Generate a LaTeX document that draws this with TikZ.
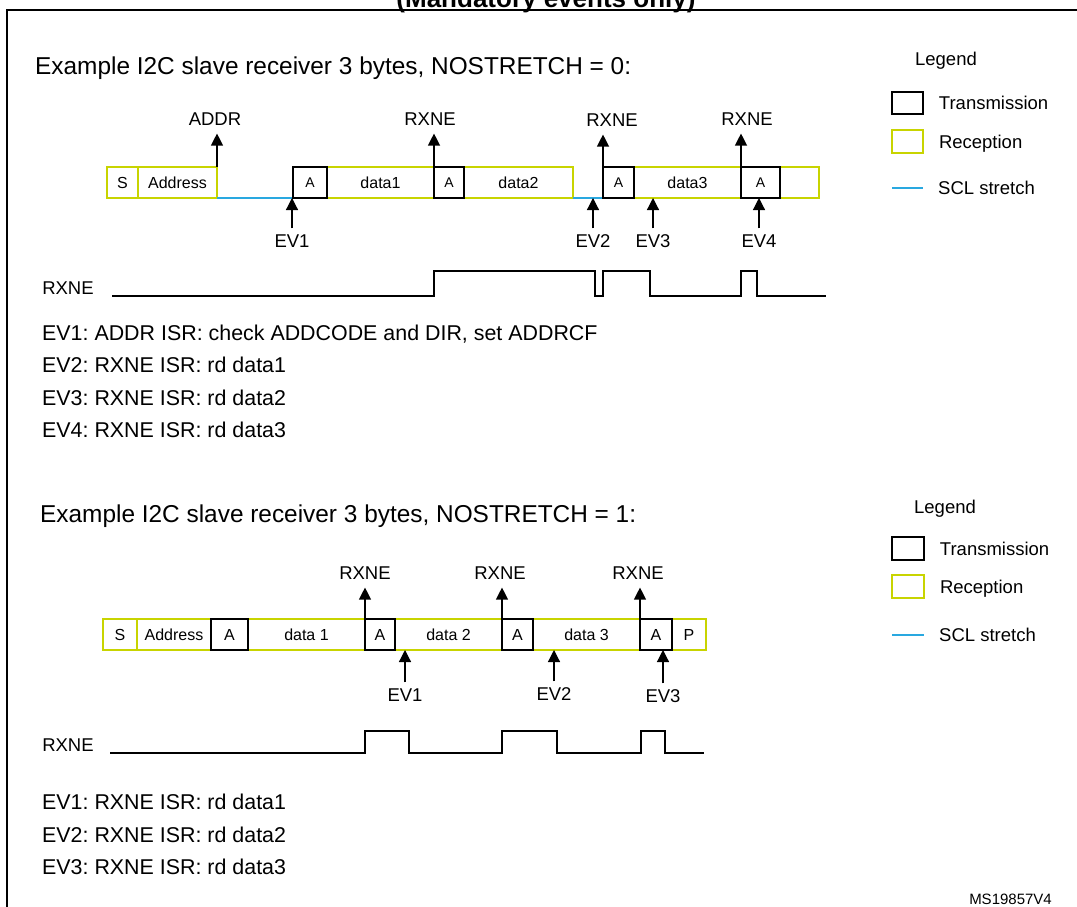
\documentclass[tikz,border=0pt]{standalone}
\usepackage{fontspec}
\setmainfont{Liberation Sans}
\usepackage{tikz}
\usetikzlibrary{positioning,arrows.meta}
\definecolor{stlime}{RGB}{200,212,0}
\definecolor{stblue}{RGB}{41,168,224}
\newcommand\hdfont{\fontsize{24.4}{28}\selectfont}
\newcommand\ttlfont{\bfseries\fontsize{26}{30}\selectfont}
\newcommand\txtfont{\fontsize{21.4}{25}\selectfont}
\newcommand\lblfont{\fontsize{18.5}{22}\selectfont}
\newcommand\boxfont{\fontsize{16}{19}\selectfont}
\newcommand\ackfont{\fontsize{14}{16}\selectfont}
\newcommand\msfont{\fontsize{15}{18}\selectfont}
\frenchspacing

\begin{document}
\begin{tikzpicture}[x=1pt,y=-1pt,
      every node/.style={inner sep=0pt},
      rbox/.style={draw=stlime, line width=1.6pt, minimum height=31pt, outer sep=0pt, font=\boxfont},
      abox/.style={rbox, draw=none, font=\ackfont},
      tline/.style={line width=1.6pt},
      stretch/.style={draw=stblue, line width=1.6pt},
      lbl/.style={font=\lblfont, text depth=0pt},
      ev/.style={line width=1.2pt, -{Triangle[width=12pt,length=12pt]}},
      flag/.style={ev, shorten >=8pt},
      hit/.style={ev, shorten <=6pt},
      wave/.style={line width=1.6pt},
      txt/.style={font=\txtfont, anchor=base west}]
    \useasboundingbox (0,0) rectangle (1077,907);
    \draw[line width=2pt] (1100,10) -| (7,930);
    \node[font=\ttlfont, anchor=base] (ttl) at (546,8) {(Mandatory events only)};
    % NOSTRETCH = 0
    \node[font=\hdfont, anchor=base west] (hd1) at (35,75) {Example I2C slave receiver 3 bytes, NOSTRETCH = 0:};
    \node[rbox, minimum width=31pt, anchor=north west] (s1) at (107,167) {S};
    \node[rbox, minimum width=79pt, right=0pt of s1] (ad1) {Address};
    \node[abox, minimum width=34pt, right=76pt of ad1] (a1) {A};
    \node[rbox, minimum width=107pt, right=0pt of a1] (d1) {data1};
    \node[abox, minimum width=30pt, right=0pt of d1] (a2) {A};
    \node[rbox, minimum width=109pt, right=0pt of a2] (d2) {data2};
    \node[abox, minimum width=31pt, right=30pt of d2] (a3) {A};
    \node[rbox, minimum width=107pt, right=0pt of a3] (d3) {data3};
    \node[abox, minimum width=39pt, right=0pt of d3] (a4) {A};
    \node[rbox, minimum width=39pt, right=0pt of a4] (e1) {};
    \draw[stretch] (ad1.south east) -- (a1.south west);
    \draw[stretch] (d2.south east) -- (a3.south west);
    \node[lbl] (addr) at (215,119) {ADDR};
    \node[lbl] (rx1) at (430,119) {RXNE};
    \node[lbl] (rx2) at (612,120) {RXNE};
    \node[lbl] (rx3) at (747,119) {RXNE};
    \draw[flag] (ad1.north east) -- (ad1.north east |- addr.south);
    \draw[flag] (a2.north west) -- (a2.north west |- rx1.south);
    \draw[flag] (a3.north west) -- (a3.north west |- rx2.south);
    \draw[flag] (a4.north west) -- (a4.north west |- rx3.south);
    \node[lbl] (ev1) at (292,241) {EV1};
    \node[lbl] (ev2) at (593,241) {EV2};
    \node[lbl] (ev3) at (653,241) {EV3};
    \node[lbl] (ev4) at (759,241) {EV4};
    \draw[hit] (ev1.north) -- (ev1.north |- a1.south);
    \draw[hit] (ev2.north) -- (ev2.north |- d2.south);
    \draw[hit] (ev3.north) -- (ev3.north |- d3.south);
    \draw[hit] (ev4.north) -- (ev4.north |- a4.south);
    \node[lbl] (wl1) at (68,288) {RXNE};
    \draw[wave] (112,296) -- (434,296) -- (434,271) -- (595,271) -- (595,296) -- (603,296)
      -- (603,271) -- (650,271) -- (650,296) -- (741,296) -- (741,271) -- (757,271)
      -- (757,296) -- (826,296);
    \node[txt] (t11) at (42,340) {EV1: ADDR ISR: check ADDCODE and DIR, set ADDRCF};
    \node[txt] (t12) at (42,372) {EV2: RXNE ISR: rd data1};
    \node[txt] (t13) at (42,405) {EV3: RXNE ISR: rd data2};
    \node[txt] (t14) at (42,437) {EV4: RXNE ISR: rd data3};
    \node[lbl] (lg1) at (946,59) {Legend};
    \node[draw, line width=1.5pt, minimum width=31pt, minimum height=22pt] (lt1) at (907.5,103) {};
    \node[lbl, right=15pt of lt1] (ltt1) {Transmission};
    \node[draw=stlime, line width=1.6pt, minimum width=31pt, minimum height=23pt] (lr1) at (907.5,141.5) {};
    \node[lbl, right=15pt of lr1] (lrt1) {Reception};
    \coordinate (ls1) at (892,188);
    \coordinate (le1) at (923,188);
    \draw[stretch] (ls1) -- (le1);
    \node[lbl, right=15pt of le1] (lst1) {SCL stretch};
    % NOSTRETCH = 1
    \node[font=\hdfont, anchor=base west] (hd2) at (40,522) {Example I2C slave receiver 3 bytes, NOSTRETCH = 1:};
    \node[rbox, minimum width=34pt, anchor=north west] (s2) at (103,619) {S};
    \node[rbox, minimum width=74pt, right=0pt of s2] (ad2) {Address};
    \node[abox, minimum width=37pt, right=0pt of ad2, font=\boxfont] (b1) {A};
    \node[rbox, minimum width=117pt, right=0pt of b1] (f1) {data 1};
    \node[abox, minimum width=30pt, right=0pt of f1, font=\boxfont] (b2) {A};
    \node[rbox, minimum width=107pt, right=0pt of b2] (f2) {data 2};
    \node[abox, minimum width=31pt, right=0pt of f2, font=\boxfont] (b3) {A};
    \node[rbox, minimum width=107pt, right=0pt of b3] (f3) {data 3};
    \node[abox, minimum width=32pt, right=0pt of f3, font=\boxfont] (b4) {A};
    \node[rbox, minimum width=34pt, right=0pt of b4] (p2) {P};
    \node[lbl] (rxb1) at (365,573) {RXNE};
    \node[lbl] (rxb2) at (500,573) {RXNE};
    \node[lbl] (rxb3) at (638,573) {RXNE};
    \draw[flag] (b2.north west) -- (b2.north west |- rxb1.south);
    \draw[flag] (b3.north west) -- (b3.north west |- rxb2.south);
    \draw[flag] (b4.north west) -- (b4.north west |- rxb3.south);
    \node[lbl] (evb1) at (405,695) {EV1};
    \node[lbl] (evb2) at (554,694) {EV2};
    \node[lbl] (evb3) at (663,696) {EV3};
    \draw[hit] (evb1.north) -- (evb1.north |- f2.south);
    \draw[hit] (evb2.north) -- (evb2.north |- f3.south);
    \draw[hit] (evb3.north) -- (evb3.north |- b4.south);
    \node[lbl] (wl2) at (68,745) {RXNE};
    \draw[wave] (110,753) -- (365,753) -- (365,731) -- (409,731) -- (409,753) -- (502,753)
      -- (502,731) -- (557,731) -- (557,753) -- (641,753) -- (641,731) -- (665,731)
      -- (665,753) -- (704,753);
    \node[txt] (t21) at (42,809) {EV1: RXNE ISR: rd data1};
    \node[txt] (t22) at (42,842) {EV2: RXNE ISR: rd data2};
    \node[txt] (t23) at (42,874) {EV3: RXNE ISR: rd data3};
    \node[lbl] (lg2) at (945,507) {Legend};
    \node[draw, line width=1.5pt, minimum width=32pt, minimum height=23pt] (lt2) at (908,548.5) {};
    \node[lbl, right=15pt of lt2] (ltt2) {Transmission};
    \node[draw=stlime, line width=1.6pt, minimum width=32pt, minimum height=23pt] (lr2) at (908,586.5) {};
    \node[lbl, right=15pt of lr2] (lrt2) {Reception};
    \coordinate (ls2) at (892,635);
    \coordinate (le2) at (924,635);
    \draw[stretch] (ls2) -- (le2);
    \node[lbl, right=15pt of le2] (lst2) {SCL stretch};
    % transmission slots
    \foreach \n in {a1,a2,a3,a4,b1,b2,b3,b4}
      \draw[tline] (\n.south west) rectangle (\n.north east);
    \node[font=\msfont, anchor=base east] (ms) at (1052,904) {MS19857V4};
\end{tikzpicture}
\end{document}
